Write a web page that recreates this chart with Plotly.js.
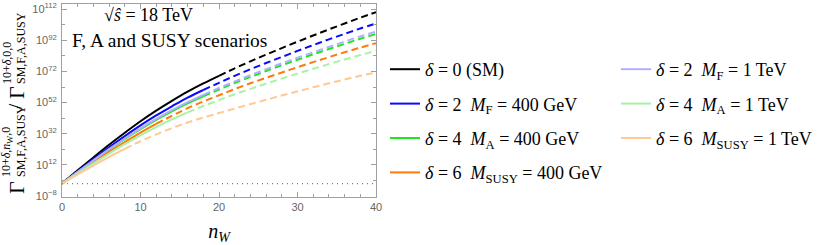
<!DOCTYPE html>
<html>
<head>
<meta charset="utf-8">
<script src="https://cdn.plot.ly/plotly-3.0.1.min.js"></script>
<style>html,body{margin:0;padding:0;background:#fff;}#chart{width:830px;height:245px;}</style>
</head>
<body>
<div id="chart"></div>
<script>
// ---- data (log10 of the rate ratio) ----
const nW = [0, 2, 4, 6, 8, 10, 12, 14, 16, 18, 20, 22, 24, 26, 28, 30, 32, 34, 36, 38, 40];
const logSM      = [0, 8.5, 16.8, 24.9, 32.6, 40, 46.8, 53.1, 59, 64.3, 69.2, 74, 78.5, 82.8, 87, 91.1, 95.1, 99, 102.8, 106.5, 110];
const logF400    = [0, 7.9, 15.7, 23.3, 30.5, 37.4, 43.8, 49.6, 55.2, 60.1, 64.7, 69.2, 73.4, 77.4, 81.3, 85.2, 88.9, 92.6, 96.1, 99.6, 102.8];
const logA400    = [0, 7.4, 14.7, 21.7, 28.5, 34.9, 40.9, 46.4, 51.5, 56.1, 60.4, 64.6, 68.5, 72.3, 76.0, 79.5, 83.0, 86.4, 89.7, 93.0, 96.1];
const logSUSY400 = [0, 7.0, 13.8, 20.4, 26.7, 32.8, 38.4, 43.5, 48.4, 52.7, 56.7, 60.7, 64.4, 67.9, 71.3, 74.7, 78.0, 81.2, 84.3, 87.3, 90.2];
const logF1000   = [0, 7.5, 14.9, 22.1, 28.9, 35.5, 41.5, 47.1, 52.3, 57.0, 61.4, 65.6, 69.6, 73.4, 77.2, 80.8, 84.3, 87.8, 91.2, 94.5, 97.6];
const logA1000   = [0, 6.6, 13.0, 19.3, 25.3, 31.0, 36.3, 41.2, 45.7, 49.8, 53.6, 57.4, 60.8, 64.2, 67.4, 70.6, 73.7, 76.7, 79.7, 82.5, 85.3];
const logSUSY1000= [0, 5.9, 11.6, 17.2, 22.3, 27.2, 31.6, 35.6, 39.2, 42.4, 45.3, 48.2, 51.0, 53.8, 56.6, 59.2, 61.8, 64.4, 66.8, 69.2, 71.3];
// n_W where each curve turns from solid to dashed
const solidEnd = {SM: 20, F400: 18, A400: 18, SUSY400: 12, F1000: 18, A1000: 16, SUSY1000: 8};
const seriesNames = ["SM", "F400", "A400", "SUSY400", "F1000", "A1000", "SUSY1000"];
const seriesLabels = [
  "<i>δ</i> = 0 (SM)",
  "<i>δ</i> = 2  <i>M</i><sub>F</sub> = 400 GeV",
  "<i>δ</i> = 4  <i>M</i><sub>A</sub> = 400 GeV",
  "<i>δ</i> = 6  <i>M</i><sub>SUSY</sub> = 400 GeV",
  "<i>δ</i> = 2  <i>M</i><sub>F</sub> = 1 TeV",
  "<i>δ</i> = 4  <i>M</i><sub>A</sub> = 1 TeV",
  "<i>δ</i> = 6  <i>M</i><sub>SUSY</sub> = 1 TeV"
];
const refLevel = 1;
const yTickExps = [-8, 12, 32, 52, 72, 92, 112];
const yMinorExps = [2, 22, 42, 62, 82, 102];
const xTicks = [0, 10, 20, 30, 40];

// ---- styling ----
const seriesData = [logSM, logF400, logA400, logSUSY400, logF1000, logA1000, logSUSY1000];
const colors = ["#000000", "#0a0aff", "#1ee61e", "#ff7a0a", "#b0b0ff", "#a8f2a8", "#ffc894"];
const legendOf = ["legend", "legend", "legend", "legend", "legend2", "legend2", "legend2"];
const serif = "Liberation Serif, Times New Roman, serif";

const traces = [];
seriesNames.forEach((name, i) => {
  const cut = solidEnd[name];
  const ys = seriesData[i].map(v => Math.pow(10, v));
  const sx = [], sy = [], dx = [], dy = [];
  nW.forEach((n, k) => {
    if (n <= cut) { sx.push(n); sy.push(ys[k]); }
    if (n >= cut) { dx.push(n); dy.push(ys[k]); }
  });
  traces.push({x: dx, y: dy, type: "scatter", mode: "lines", showlegend: false, hoverinfo: "skip",
    line: {color: colors[i], width: 2, dash: "7px,4px", shape: "spline", smoothing: 1}});
  traces.push({x: sx, y: sy, type: "scatter", mode: "lines", name: seriesLabels[i],
    legend: legendOf[i], legendgroup: name,
    line: {color: colors[i], width: 2, shape: "spline", smoothing: 1}});
});
traces.push({x: [xTicks[0], xTicks[xTicks.length - 1]], y: [refLevel, refLevel], type: "scatter",
  mode: "lines", showlegend: false, hoverinfo: "skip",
  line: {color: "#777", width: 1.2, dash: "1px,4px"}});

// pixel helpers for annotation placement
const L = 62, R = 376, T = 4, B = 197;
const px = x => (x - L) / (R - L);
const py = y => (B - y) / (B - T);

const rot = (text, x, y, size, yanchor) => ({text, x: px(x), y: py(y), xref: "paper", yref: "paper",
  textangle: -90, showarrow: false, xanchor: "center", yanchor: yanchor, borderpad: 0,
  font: {family: serif, size: size, color: "#000"}});

const annotations = [
  {text: "√<i>ŝ</i> = 18 TeV", x: px(148), y: py(15.5), xref: "paper", yref: "paper", showarrow: false,
   xanchor: "center", yanchor: "middle", borderpad: 0, font: {family: serif, size: 18, color: "#000"}},
  {text: "F, A and SUSY scenarios", x: px(71), y: py(40), xref: "paper", yref: "paper", showarrow: false,
   xanchor: "left", yanchor: "middle", borderpad: 0, font: {family: serif, size: 19.5, color: "#000"}},
  rot("Γ", 16, 188, 22, "middle"),
  rot("10+<i>δ</i>,<i>n</i><sub>W</sub>,0", 7, 178, 12, "bottom"),
  rot("SM,F,A,SUSY", 21, 178, 12, "bottom"),
  rot("/", 15, 106, 19, "middle"),
  rot("Γ", 16, 93, 22, "middle"),
  rot("10+<i>δ</i>,0,0", 7, 85, 12, "bottom"),
  rot("SM,F,A,SUSY", 21, 85, 12, "bottom")
];

const axisCommon = {showline: true, linecolor: "#a0a0a0", linewidth: 1, mirror: "ticks",
  ticks: "inside", ticklen: 5, tickcolor: "#a0a0a0", tickwidth: 1, showgrid: false, zeroline: false,
  tickfont: {family: "Liberation Sans, Arial, sans-serif", size: 11, color: "#666"}};

const layout = {
  width: 830, height: 245,
  margin: {l: L, r: 830 - R, t: T, b: 245 - B},
  paper_bgcolor: "#fff", plot_bgcolor: "#fff",
  xaxis: Object.assign({}, axisCommon, {
    range: [xTicks[0], xTicks[xTicks.length - 1]], tickmode: "array", tickvals: xTicks,
    minor: {dtick: 2, ticks: "inside", ticklen: 3, tickcolor: "#a0a0a0"},
    title: {text: "<i>n</i><sub><i>W</i></sub>", font: {family: serif, size: 20, color: "#000"}, standoff: 12}
  }),
  yaxis: Object.assign({}, axisCommon, {
    type: "log", range: [-8.6, 115.3], tickmode: "array",
    tickvals: yTickExps.map(e => Math.pow(10, e)),
    ticktext: yTickExps.map(e => "10<sup>" + (e < 0 ? "−" + (-e) : e) + "</sup>"),
    minor: {tickvals: yMinorExps.map(e => Math.pow(10, e)), ticks: "inside", ticklen: 3, tickcolor: "#a0a0a0"},
    ticklabelstandoff: 2
  }),
  legend: {x: px(385), y: py(51), xanchor: "left", yanchor: "top", xref: "paper", yref: "paper",
    bgcolor: "rgba(0,0,0,0)", tracegroupgap: 8, itemwidth: 30,
    font: {family: serif, size: 18, color: "#000"}},
  legend2: {x: px(616), y: py(51), xanchor: "left", yanchor: "top", xref: "paper", yref: "paper",
    bgcolor: "rgba(0,0,0,0)", tracegroupgap: 8, itemwidth: 30,
    font: {family: serif, size: 18, color: "#000"}},
  annotations: annotations,
  showlegend: true
};

Plotly.newPlot("chart", traces, layout, {staticPlot: true, displayModeBar: false});
</script>
</body>
</html>
